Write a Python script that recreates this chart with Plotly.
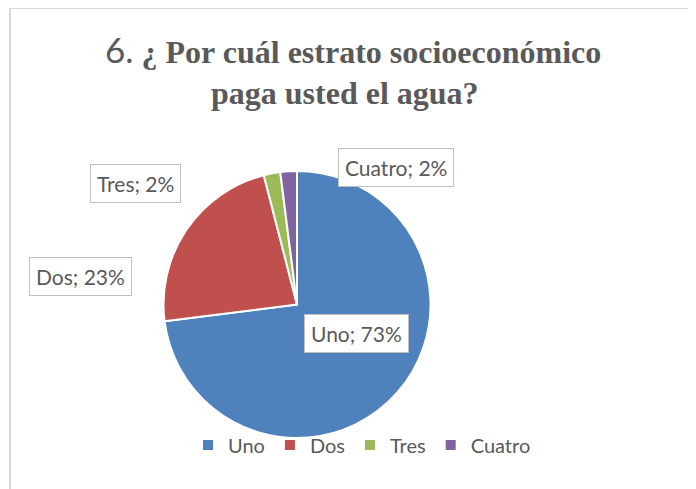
import plotly.graph_objects as go

# Datos del gráfico
estratos = ['Uno', 'Dos', 'Tres', 'Cuatro']
porcentajes = [73, 23, 2, 2]
colores = ['#4F81BD', '#C0504D', '#9BBB59', '#8064A2']

W, H = 696, 489
# la página se dibuja con 8 px de margen del body
OX, OY = 8, 8
gris = '#595959'


def px(x):
    return (x - OX) / W


def py(y):
    return 1 - (y - OY) / H


fig = go.Figure()

fig.add_trace(go.Pie(
    labels=estratos,
    values=porcentajes,
    sort=False,
    direction='clockwise',
    rotation=0,
    marker=dict(colors=colores, line=dict(color='white', width=2)),
    textinfo='none',
    hoverinfo='label+percent',
    domain=dict(x=[px(163), px(431)], y=[py(438), py(171)]),
))

# Posiciones (en pixeles) de las etiquetas de datos
pos_etiquetas = [(357, 333), (80, 276), (135, 183), (396, 167)]

anots = []
for est, pct, (ex, ey) in zip(estratos, porcentajes, pos_etiquetas):
    anots.append(dict(
        x=px(ex), y=py(ey), xref='paper', yref='paper',
        text=f'{est}; {pct}%', showarrow=False,
        font=dict(family='Lato', size=21, color=gris),
        bgcolor='white', bordercolor='#BFBFBF', borderwidth=1, borderpad=6,
        xanchor='center', yanchor='middle',
    ))

# Título en dos líneas
anots.append(dict(
    x=px(353), y=py(49), xref='paper', yref='paper', showarrow=False,
    text="<span style='font-family:Lato;font-weight:normal;font-size:35px'>6.</span> <b>¿ Por cuál estrato socioeconómico</b>",
    font=dict(family='Liberation Serif', size=32, color=gris),
    xanchor='center', yanchor='middle',
))
anots.append(dict(
    x=px(345), y=py(93), xref='paper', yref='paper', showarrow=False,
    text='<b>paga usted el agua?</b>',
    font=dict(family='Liberation Serif', size=32, color=gris),
    xanchor='center', yanchor='middle',
))

fig.update_layout(
    width=W, height=H,
    margin=dict(l=0, r=0, t=0, b=0),
    paper_bgcolor='white',
    annotations=anots,
    showlegend=True,
    legend=dict(
        orientation='h', x=px(362), y=py(445),
        xanchor='center', yanchor='middle',
        font=dict(family='Lato', size=20, color=gris),
        bgcolor='rgba(0,0,0,0)',
        traceorder='normal',
    ),
    shapes=[dict(
        type='rect', xref='paper', yref='paper',
        x0=px(10), x1=1.05, y0=-0.05, y1=py(8),
        line=dict(color='#D9D9D9', width=2),
    )],
)

fig.write_html('out.html')
